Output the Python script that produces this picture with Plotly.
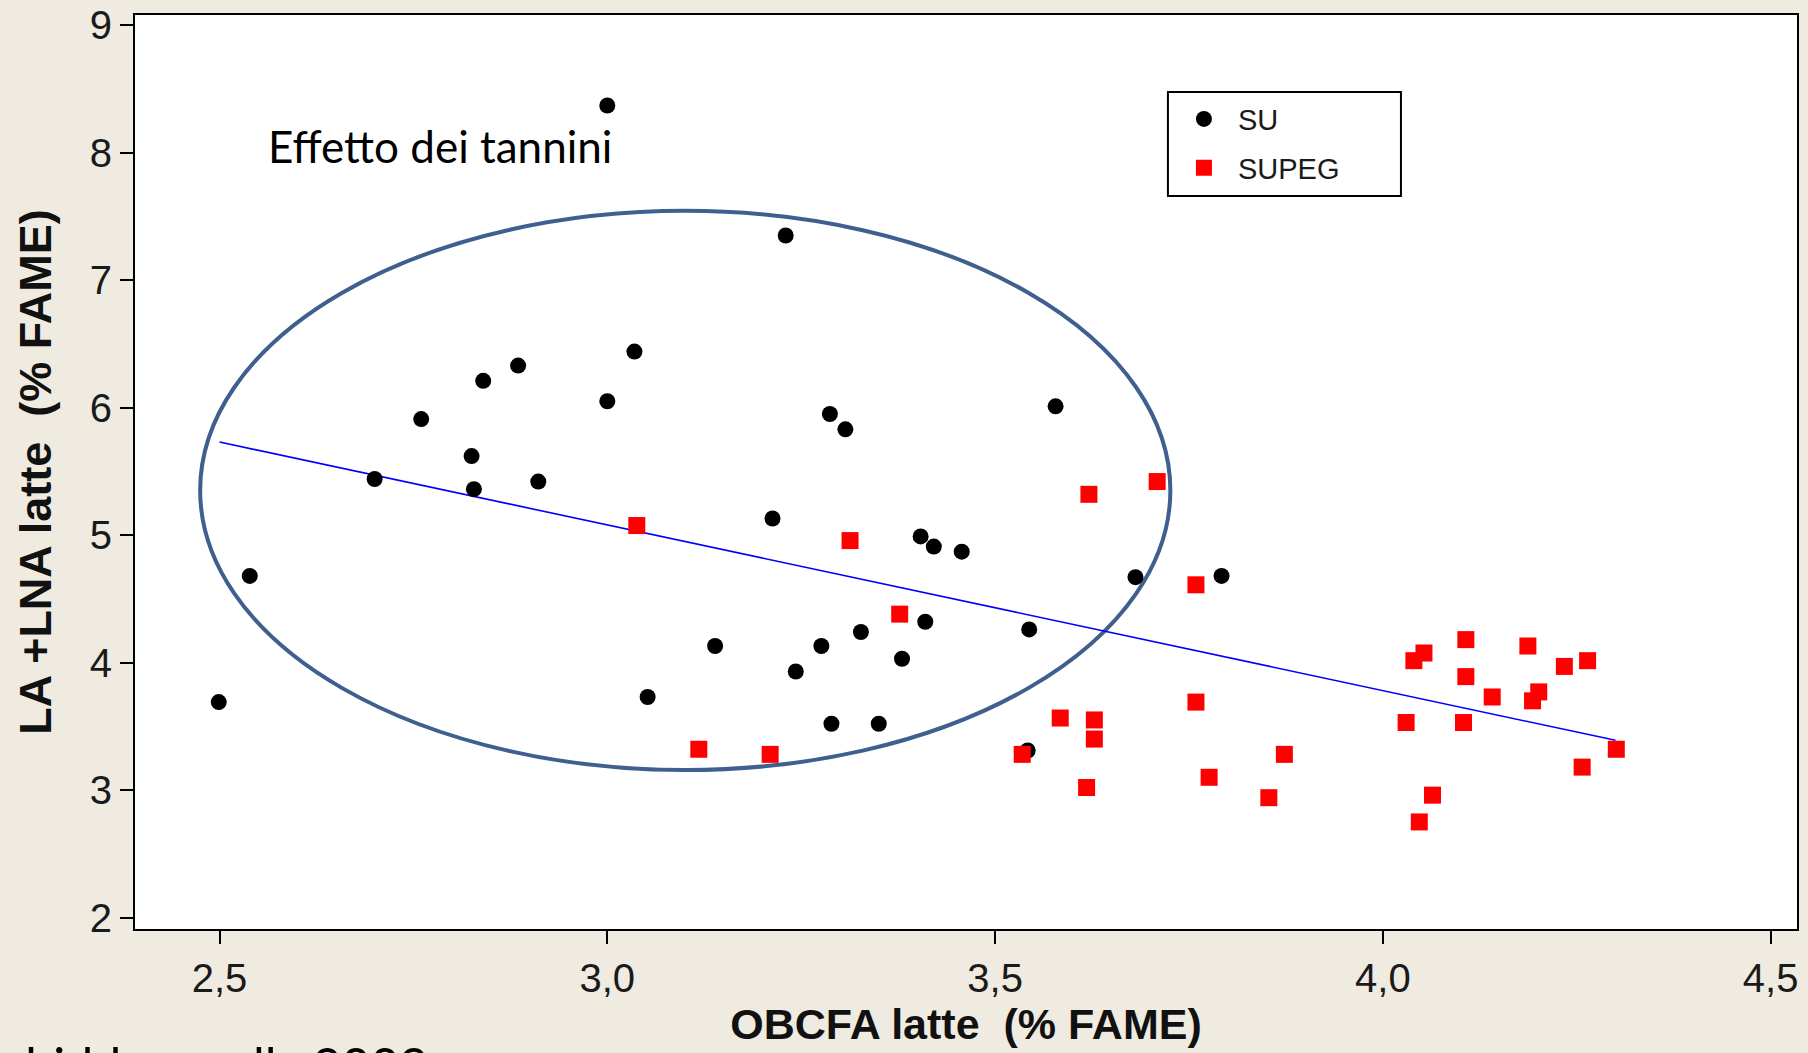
import plotly.graph_objects as go

# ---- data ----
su_x = [3.00, 3.23, 3.035, 2.885, 2.84, 3.00, 2.76, 3.287, 3.307, 3.578, 2.825, 2.70, 2.828,
        2.911, 3.213, 3.404, 3.421, 3.457, 2.539, 3.681, 3.792, 3.41, 3.544, 3.327, 3.139,
        3.276, 3.243, 3.38, 3.052, 2.499, 3.289, 3.35, 3.542]
su_y = [8.37, 7.35, 6.44, 6.33, 6.21, 6.05, 5.91, 5.95, 5.83, 6.01, 5.62, 5.44, 5.36,
        5.42, 5.13, 4.99, 4.91, 4.87, 4.68, 4.67, 4.68, 4.32, 4.26, 4.24, 4.13,
        4.13, 3.93, 4.03, 3.73, 3.69, 3.52, 3.52, 3.31]

supeg_x = [3.038, 3.313, 3.377, 3.118, 3.21, 3.621, 3.709, 3.759, 4.107, 4.053, 4.040, 4.187,
           4.264, 4.234, 4.107, 4.141, 4.201, 4.193, 4.030, 4.104, 4.301, 4.257, 4.064, 4.047,
           3.759, 3.584, 3.628, 3.628, 3.535, 3.873, 3.776, 3.618, 3.853]
supeg_y = [5.075, 4.957, 4.38, 3.32, 3.28, 5.32, 5.42, 4.61, 4.18, 4.075, 4.015, 4.13,
           4.015, 3.97, 3.89, 3.73, 3.77, 3.70, 3.53, 3.53, 3.32, 3.18, 2.96, 2.75,
           3.69, 3.565, 3.55, 3.40, 3.28, 3.28, 3.10, 3.02, 2.94]

fit_x = [2.50, 4.30]
fit_y = [5.73, 3.39]

ellipse_x = [2.475, 3.726]
ellipse_y = [3.157, 7.544]

x_ticks = [2.5, 3.0, 3.5, 4.0, 4.5]
x_ticktext = ["2,5", "3,0", "3,5", "4,0", "4,5"]
y_ticks = [2, 3, 4, 5, 6, 7, 8, 9]
y_ticktext = ["2", "3", "4", "5", "6", "7", "8", "9"]

series_names = ["SU", "SUPEG"]
annotation_text = "Effetto dei tannini"
citation_text = "Cabiddu e coll., 2009"
x_title = "OBCFA latte\u00a0 (% FAME)"
y_title = "LA +LNA latte\u00a0 (% FAME)"

# ---- figure ----
fig = go.Figure()

fig.add_trace(go.Scatter(x=fit_x, y=fit_y, mode="lines",
                         line=dict(color="#0000FF", width=1.6),
                         showlegend=False, hoverinfo="skip"))

fig.add_trace(go.Scatter(x=su_x, y=su_y, mode="markers", name=series_names[0],
                         legendgroup="a",
                         marker=dict(symbol="circle", size=16, color="#000000")))

fig.add_trace(go.Scatter(x=supeg_x, y=supeg_y, mode="markers", name=series_names[1],
                         legendgroup="b",
                         marker=dict(symbol="square", size=17, color="#FF0000")))

fig.add_shape(type="circle", xref="x", yref="y",
              x0=ellipse_x[0], x1=ellipse_x[1], y0=ellipse_y[0], y1=ellipse_y[1],
              line=dict(color="#3F5F8E", width=4), layer="below")

# legend frame (wider than plotly's auto-sized box, as in the reference)
fig.add_shape(type="rect", xref="paper", yref="paper",
              x0=0.6215, x1=0.7617, y0=0.802, y1=0.9158,
              line=dict(color="#000000", width=2), fillcolor="#FFFFFF", layer="below")

fig.add_annotation(x=2.56, y=8.05, xref="x", yref="y", text=annotation_text,
                   showarrow=False, xanchor="left", yanchor="middle",
                   font=dict(family="Lato", size=44, color="#000000"))

fig.add_annotation(x=-0.1023, y=-0.149, xref="paper", yref="paper", text=citation_text,
                   showarrow=False, xanchor="left", yanchor="middle",
                   font=dict(family="Lato", size=50, color="#000000"))

axis_common = dict(
    showgrid=False, zeroline=False,
    showline=True, linecolor="#000000", linewidth=2, mirror=True,
    ticks="outside", ticklen=13, tickwidth=2, tickcolor="#000000",
    tickfont=dict(family="Liberation Sans", size=40, color="#1a1a1a"),
)

fig.update_xaxes(range=[2.391, 4.534], tickvals=x_ticks, ticktext=x_ticktext,
                 title=dict(text=x_title, standoff=10,
                            font=dict(family="Liberation Sans", size=43, color="#111111",
                                      weight="bold")),
                 **axis_common)
fig.update_yaxes(range=[1.91, 9.08], tickvals=y_ticks, ticktext=y_ticktext,
                 title=dict(text=y_title, standoff=24,
                            font=dict(family="Liberation Sans", size=45, color="#111111",
                                      weight="bold")),
                 **axis_common)

fig.update_layout(
    width=1808, height=1053,
    margin=dict(l=135, r=11, t=15, b=124, autoexpand=False),
    paper_bgcolor="#EFEBE0",
    plot_bgcolor="#FFFFFF",
    legend=dict(x=0.6227, y=0.914, xanchor="left", yanchor="top",
                bgcolor="rgba(0,0,0,0)", borderwidth=0,
                font=dict(family="Liberation Sans", size=29, color="#1a1a1a"),
                traceorder="grouped", tracegroupgap=8,
                itemwidth=58),
    showlegend=True,
)

fig.write_html("out.html", include_plotlyjs=True,
               config={"displayModeBar": False},
               post_script="document.body.style.margin='0';document.body.style.overflow='hidden';")
